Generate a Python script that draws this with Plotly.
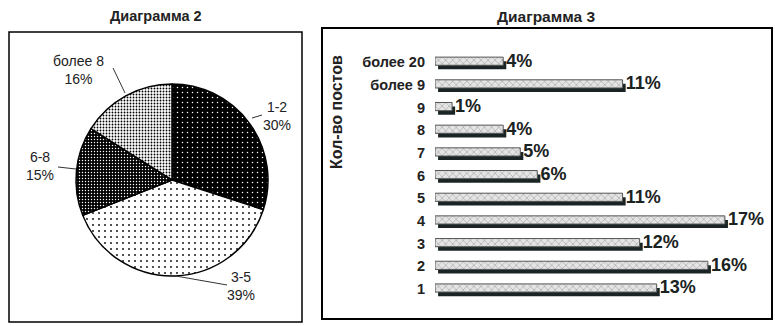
import plotly.graph_objects as go

W, H = 775, 326
FONT = "Liberation Sans, Arial, sans-serif"

# ---- data ----
pie_labels = ["1-2", "3-5", "6-8", "более 8"]
pie_values = [30, 39, 15, 16]

bar_categories = ["более 20", "более 9", "9", "8", "7", "6", "5", "4", "3", "2", "1"]
bar_values = [4, 11, 1, 4, 5, 6, 11, 17, 12, 16, 13]

titles = ["Диаграмма 2", "Диаграмма 3"]
y_title = "Кол-во постов"


def px(x):
    return x / W


def py(y):
    return (H - y) / H


fig = go.Figure()

# ---- pie ----
pie_patterns = [
    dict(shape=".", bgcolor="#000000", fgcolor="#ffffff", size=5, solidity=0.07),
    dict(shape=".", bgcolor="#ffffff", fgcolor="#000000", size=6, solidity=0.07),
    dict(shape=".", bgcolor="#000000", fgcolor="#ffffff", size=3, solidity=0.18),
    dict(shape=".", bgcolor="#ffffff", fgcolor="#000000", size=3, solidity=0.3),
]
fig.add_trace(go.Pie(
    labels=pie_labels, values=pie_values, sort=False, direction="clockwise", rotation=0,
    textinfo="none", hoverinfo="label+percent", showlegend=False,
    marker=dict(colors=["#000000", "#ffffff", "#000000", "#ffffff"],
                line=dict(color="#000000", width=1.5),
                pattern=dict(shape=[p["shape"] for p in pie_patterns],
                             bgcolor=[p["bgcolor"] for p in pie_patterns],
                             fgcolor=[p["fgcolor"] for p in pie_patterns],
                             size=[p["size"] for p in pie_patterns],
                             solidity=[p["solidity"] for p in pie_patterns],
                             fillmode="replace")),
    domain=dict(x=[px(76), px(268)], y=[py(276), py(84)]),
))

# pie labels (text positions in px) and leader lines
label_pos = {"1-2": (277, 116), "3-5": (241, 286), "6-8": (40, 166), "более 8": (78, 70)}
leader = {"1-2": ((252, 118), (262, 115)), "3-5": ((170, 275), (227, 285)),
          "6-8": ((58, 167), (76, 169)), "более 8": ((113, 68), (125, 93))}
for lab, val in zip(pie_labels, pie_values):
    x, y = label_pos[lab]
    fig.add_annotation(x=px(x), y=py(y), xref="paper", yref="paper", text=f"{lab}<br>{val}%",
                       showarrow=False, font=dict(family=FONT, size=14, color="#222"),
                       xanchor="center", yanchor="middle", align="center")
    (x0, y0), (x1, y1) = leader[lab]
    fig.add_shape(type="line", xref="paper", yref="paper", x0=px(x0), y0=py(y0), x1=px(x1), y1=py(y1),
                  line=dict(color="#333", width=1))

# ---- bars ----
BW = 0.36
fig.add_trace(go.Bar(
    y=bar_categories, x=bar_values, orientation="h", base=0.18,
    width=BW, offset=-0.22 + 0.18,
    marker=dict(color="#1a2424", line=dict(width=0)),
    hoverinfo="skip", showlegend=False, xaxis="x", yaxis="y",
))
fig.add_trace(go.Bar(
    y=bar_categories, x=bar_values, orientation="h",
    width=BW, offset=-0.22,
    marker=dict(color="#e2e2e2", line=dict(color="#555555", width=1),
                pattern=dict(shape="x", fgcolor="#ababab", bgcolor="#e4e4e4", size=5, solidity=0.25,
                             fillmode="replace")),
    showlegend=False, xaxis="x", yaxis="y",
))
fig.add_trace(go.Scatter(
    y=bar_categories, x=[v + 0.18 for v in bar_values], mode="text",
    text=[f"{v}%" for v in bar_values], textposition="middle right",
    textfont=dict(family=FONT, size=18, color="#1a2222", weight="bold"),
    hoverinfo="skip", showlegend=False, cliponaxis=False, xaxis="x", yaxis="y",
))

fig.update_layout(
    width=W, height=H, margin=dict(l=0, r=0, t=0, b=0),
    paper_bgcolor="white", plot_bgcolor="rgba(0,0,0,0)",
    barmode="overlay",
    xaxis=dict(domain=[px(435), px(759)], range=[0, 19], visible=False, fixedrange=True),
    yaxis=dict(domain=[py(301.5), py(49.5)], type="category", autorange="reversed",
               showgrid=False, zeroline=False, showline=False, ticks="", ticklabelstandoff=9,
               tickfont=dict(family=FONT, size=14.5, color="#222", weight="bold")),
)

# titles
fig.add_annotation(x=px(156), y=py(16), xref="paper", yref="paper", text=titles[0], showarrow=False,
                   xanchor="center", yanchor="middle",
                   font=dict(family=FONT, size=14.5, color="#222", weight="bold"))
fig.add_annotation(x=px(546), y=py(16), xref="paper", yref="paper", text=titles[1], showarrow=False,
                   xanchor="center", yanchor="middle",
                   font=dict(family=FONT, size=15.5, color="#222", weight="bold"))
fig.add_annotation(x=px(336), y=py(112), xref="paper", yref="paper", text=y_title, showarrow=False,
                   xanchor="center", yanchor="middle",
                   textangle=-90, font=dict(family=FONT, size=16, color="#222", weight="bold"))

# boxes
fig.add_shape(type="rect", xref="paper", yref="paper", x0=px(9), y0=py(322), x1=px(302), y1=py(32),
              line=dict(color="#000", width=1.5))
fig.add_shape(type="rect", xref="paper", yref="paper", x0=px(322), y0=py(319), x1=px(772), y1=py(28),
              line=dict(color="#000", width=2))

fig.write_html("out.html")
